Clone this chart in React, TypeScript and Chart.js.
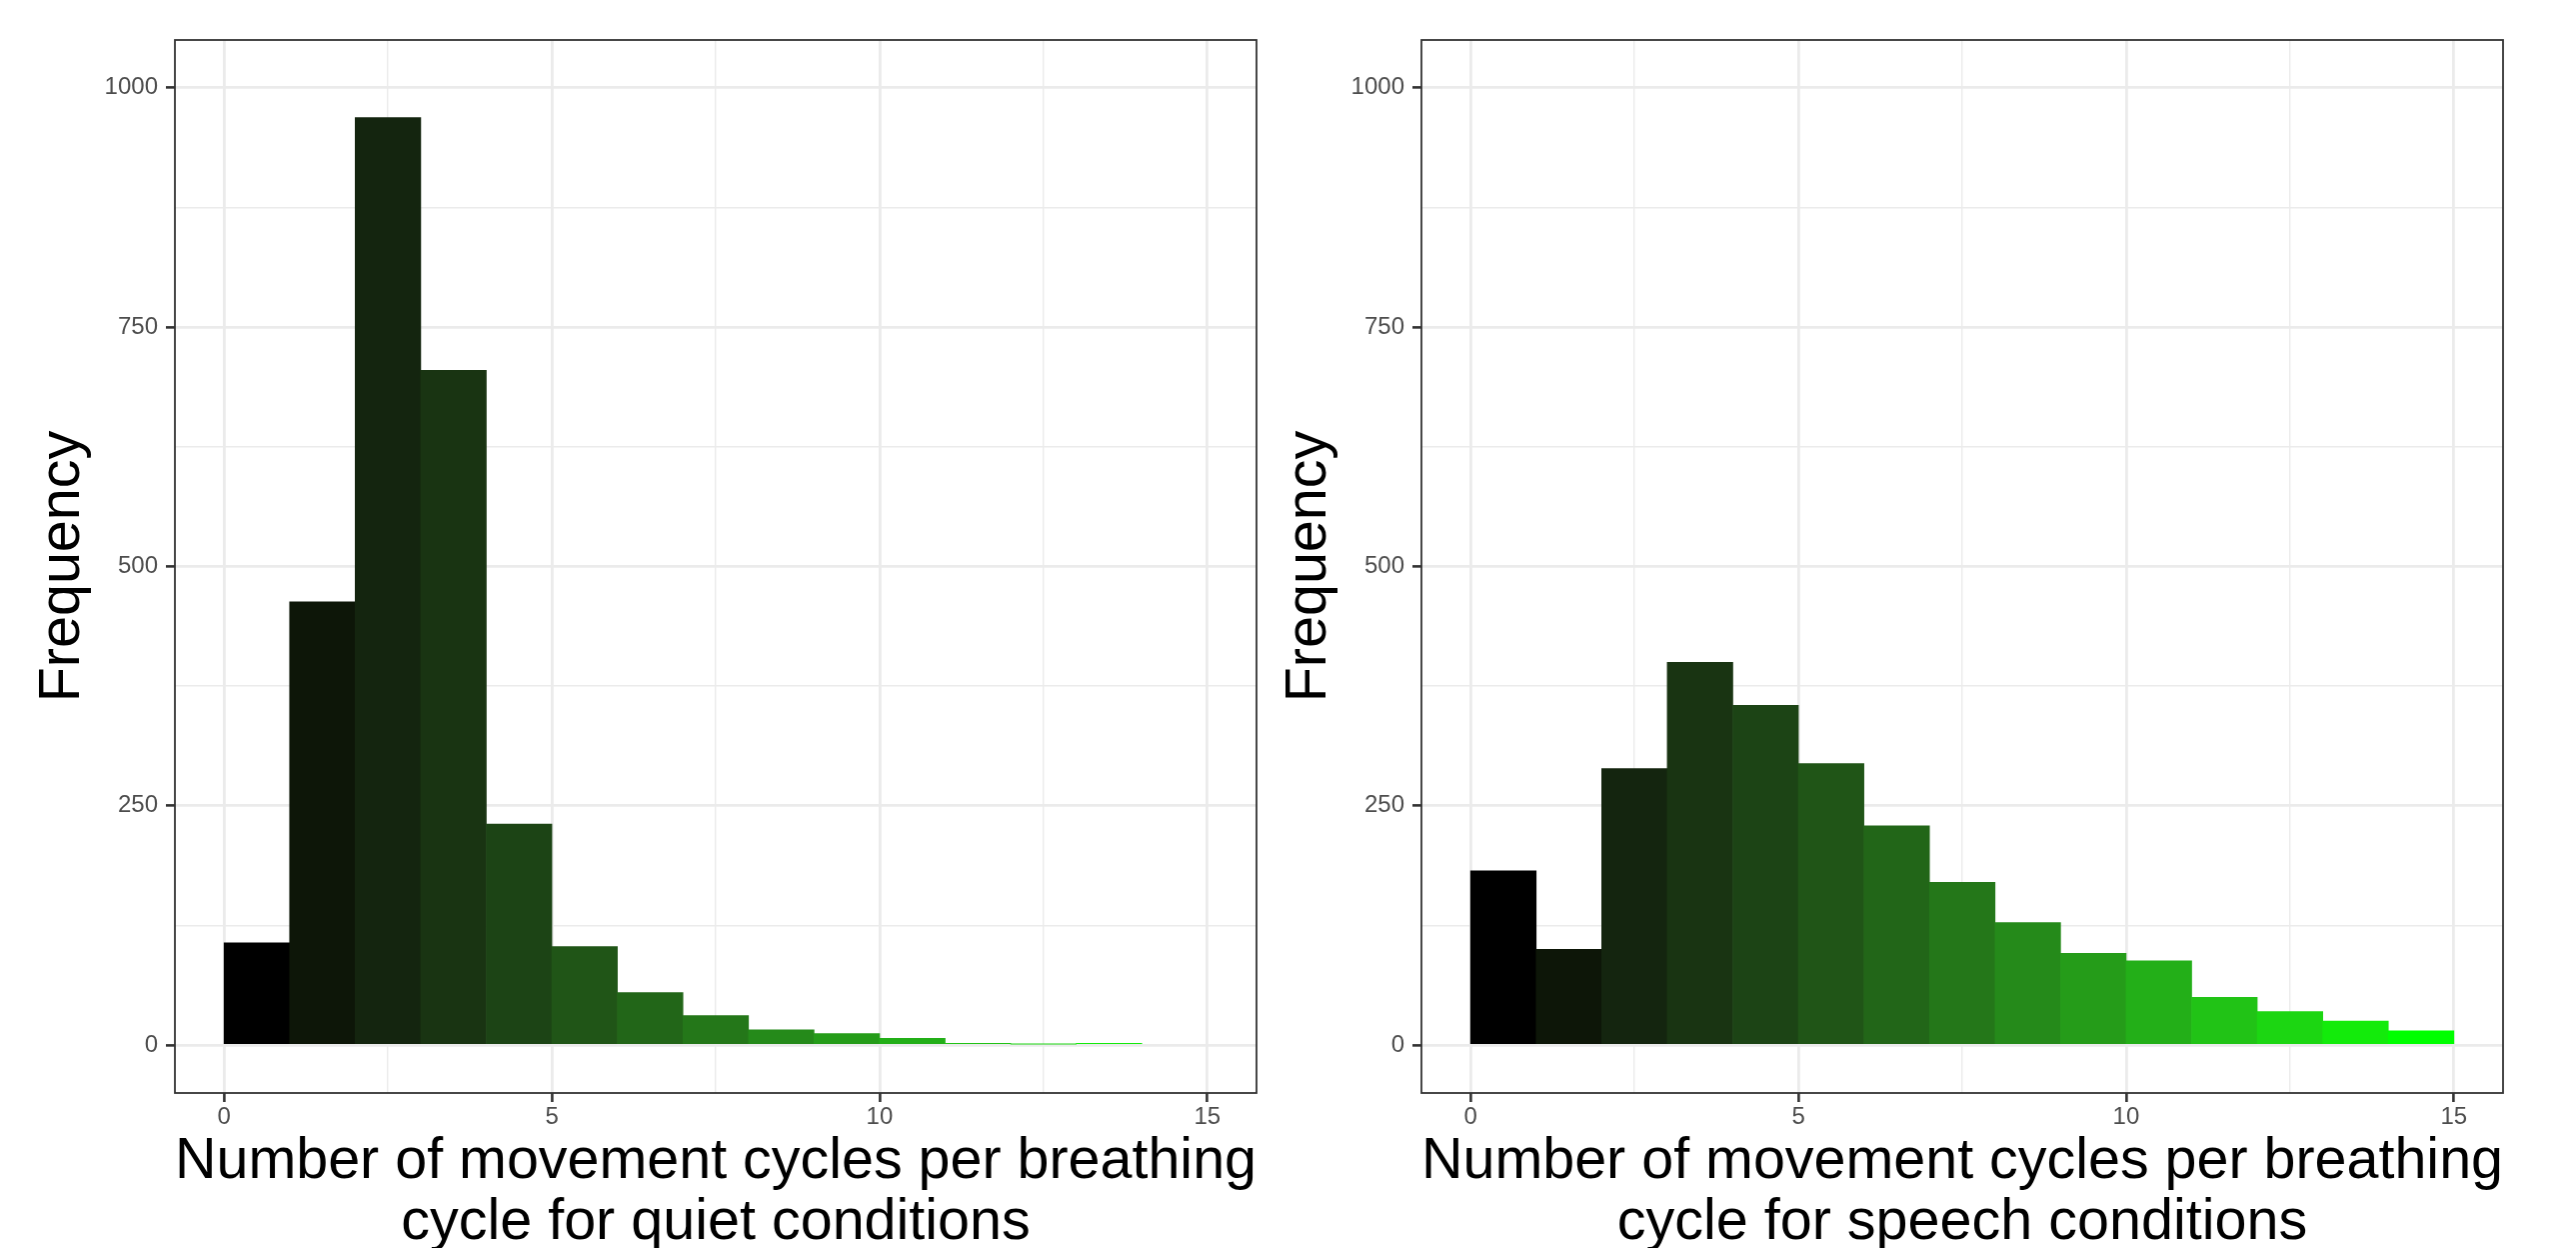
import React, { useEffect, useRef } from 'react';
import { Chart, registerables } from 'chart.js';

Chart.register(...registerables);

// ---------- data ----------
const binStarts = [0, 1, 2, 3, 4, 5, 6, 7, 8, 9, 10, 11, 12, 13, 14];
const quietCounts = [107, 463, 969, 705, 231, 103, 55, 31, 16, 12, 7, 2, 1, 2];
const speechCounts = [182, 100, 289, 400, 355, 294, 229, 170, 128, 96, 88, 50, 35, 25, 15];
const xMajorTicks = [0, 5, 10, 15];
const xMinorTicks = [2.5, 7.5, 12.5];
const yMajorTicks = [0, 250, 500, 750, 1000];
const yMinorTicks = [125, 375, 625, 875];
const quietTitle = ['Number of movement cycles per breathing', 'cycle for quiet conditions'];
const speechTitle = ['Number of movement cycles per breathing', 'cycle for speech conditions'];
const yTitle = 'Frequency';

// ---------- colour gradient (black -> green, Lab space like ggplot) ----------
function toLin(c: number) {
  c /= 255;
  return c <= 0.04045 ? c / 12.92 : Math.pow((c + 0.055) / 1.055, 2.4);
}
function fromLin(c: number) {
  const v = c <= 0.0031308 ? 12.92 * c : 1.055 * Math.pow(c, 1 / 2.4) - 0.055;
  return Math.max(0, Math.min(255, Math.round(v * 255)));
}
const Xn = 0.95047, Zn = 1.08883;
function rgb2lab(r: number, g: number, b: number) {
  const R = toLin(r), G = toLin(g), B = toLin(b);
  const X = (0.4124 * R + 0.3576 * G + 0.1805 * B) / Xn;
  const Y = 0.2126 * R + 0.7152 * G + 0.0722 * B;
  const Z = (0.0193 * R + 0.1192 * G + 0.9505 * B) / Zn;
  const f = (t: number) => (t > 0.008856 ? Math.cbrt(t) : 7.787 * t + 16 / 116);
  const fx = f(X), fy = f(Y), fz = f(Z);
  return [116 * fy - 16, 500 * (fx - fy), 200 * (fy - fz)];
}
function lab2rgb(L: number, a: number, b: number) {
  const fy = (L + 16) / 116;
  const fx = fy + a / 500;
  const fz = fy - b / 200;
  const inv = (t: number) => (t > 0.206893 ? t * t * t : (t - 16 / 116) / 7.787);
  const X = inv(fx) * Xn, Y = inv(fy), Z = inv(fz) * Zn;
  const R = 3.2406 * X - 1.5372 * Y - 0.4986 * Z;
  const G = -0.9689 * X + 1.8758 * Y + 0.0415 * Z;
  const B = 0.0557 * X - 0.204 * Y + 1.057 * Z;
  return `rgb(${fromLin(R)},${fromLin(G)},${fromLin(B)})`;
}
const lowLab = rgb2lab(0, 0, 0);
const highLab = rgb2lab(0, 255, 0);
const palette = binStarts.map((_, i) => {
  const t = i / (binStarts.length - 1);
  return lab2rgb(
    lowLab[0] + (highLab[0] - lowLab[0]) * t,
    lowLab[1] + (highLab[1] - lowLab[1]) * t,
    lowLab[2] + (highLab[2] - lowLab[2]) * t
  );
});

// ---------- layout constants ----------
const CANVAS_W = 1300;
const CANVAS_H = 1260;
const FONT = '"Liberation Sans", Arial, Helvetica, sans-serif';

const panelBorder = {
  id: 'panelBorder',
  afterDraw(chart: any) {
    const { ctx, chartArea } = chart;
    ctx.save();
    ctx.strokeStyle = '#333333';
    ctx.lineWidth = 1.8;
    ctx.strokeRect(chartArea.left, chartArea.top, chartArea.right - chartArea.left, chartArea.bottom - chartArea.top);
    ctx.restore();
  },
};

function Panel({ counts, xTitle, left }: { counts: number[]; xTitle: string[]; left: number }) {
  const ref = useRef<HTMLCanvasElement | null>(null);
  useEffect(() => {
    if (!ref.current) return;
    const xAll = [...xMajorTicks, ...xMinorTicks].sort((a, b) => a - b);
    const yAll = [...yMajorTicks, ...yMinorTicks].sort((a, b) => a - b);
    const chart = new Chart(ref.current, {
      type: 'bar',
      data: {
        datasets: [
          {
            data: counts.map((c, i) => ({ x: binStarts[i] + 0.5, y: c })),
            backgroundColor: counts.map((_, i) => palette[i]),
            borderWidth: 0,
            barPercentage: 1,
            categoryPercentage: 1,
          } as any,
        ],
      },
      options: {
        animation: false,
        responsive: false,
        devicePixelRatio: 1,
        events: [],
        layout: { padding: { top: 40, right: 43, left: 0, bottom: 0 } },
        plugins: { legend: { display: false }, tooltip: { enabled: false } },
        scales: {
          x: {
            type: 'linear',
            min: -0.75,
            max: 15.75,
            offset: false,
            afterBuildTicks: (s: any) => {
              s.ticks = xAll.map((v) => ({ value: v }));
            },
            afterFit: (s: any) => {
              s.height = CANVAS_H - 1093;
            },
            ticks: {
              autoSkip: false,
              maxRotation: 0,
              minRotation: 0,
              padding: 1,
              color: '#4D4D4D',
              font: { family: FONT, size: 24 },
              callback: (v: any) => (xMajorTicks.includes(Number(v)) ? String(v) : ''),
            },
            grid: {
              offset: false,
              color: '#EBEBEB',
              lineWidth: (ctx: any) => (ctx.tick && xMajorTicks.includes(ctx.tick.value) ? 2.8 : 1.4),
              tickLength: 9,
              tickWidth: 2.6,
              tickColor: (ctx: any) => (ctx.tick && xMajorTicks.includes(ctx.tick.value) ? '#333333' : 'rgba(0,0,0,0)'),
            },
            border: { display: false },
            title: {
              display: true,
              text: xTitle,
              color: '#000000',
              font: { family: FONT, size: 57.5, lineHeight: 1.06 },
              padding: { top: 0, bottom: 6.5 },
            },
          } as any,
          y: {
            type: 'linear',
            min: -50,
            max: 1050,
            afterBuildTicks: (s: any) => {
              s.ticks = yAll.map((v) => ({ value: v }));
            },
            afterFit: (s: any) => {
              s.width = 175;
            },
            ticks: {
              autoSkip: false,
              padding: 8,
              color: '#4D4D4D',
              font: { family: FONT, size: 24 },
              callback: (v: any) => (yMajorTicks.includes(Number(v)) ? String(v) : ''),
            },
            grid: {
              color: '#EBEBEB',
              lineWidth: (ctx: any) => (ctx.tick && yMajorTicks.includes(ctx.tick.value) ? 2.8 : 1.4),
              tickLength: 9,
              tickWidth: 2.6,
              tickColor: (ctx: any) => (ctx.tick && yMajorTicks.includes(ctx.tick.value) ? '#333333' : 'rgba(0,0,0,0)'),
            },
            border: { display: false },
            title: {
              display: true,
              text: yTitle,
              color: '#000000',
              font: { family: FONT, size: 57.5, lineHeight: 1.06 },
              padding: { top: 32.5, bottom: 0 },
            },
          } as any,
        },
      },
      plugins: [panelBorder],
    });
    return () => chart.destroy();
  }, [counts, xTitle]);

  return (
    <canvas
      ref={ref}
      width={CANVAS_W}
      height={CANVAS_H}
      style={{ position: 'absolute', left, top: 0, width: CANVAS_W, height: CANVAS_H, display: 'block' }}
    />
  );
}

export default function App() {
  return (
    <div
      style={{
        position: 'absolute',
        left: 0,
        top: 0,
        width: 2577,
        height: 1248,
        overflow: 'hidden',
        background: '#ffffff',
      }}
    >
      <Panel counts={quietCounts} xTitle={quietTitle} left={0} />
      <Panel counts={speechCounts} xTitle={speechTitle} left={1247} />
    </div>
  );
}
